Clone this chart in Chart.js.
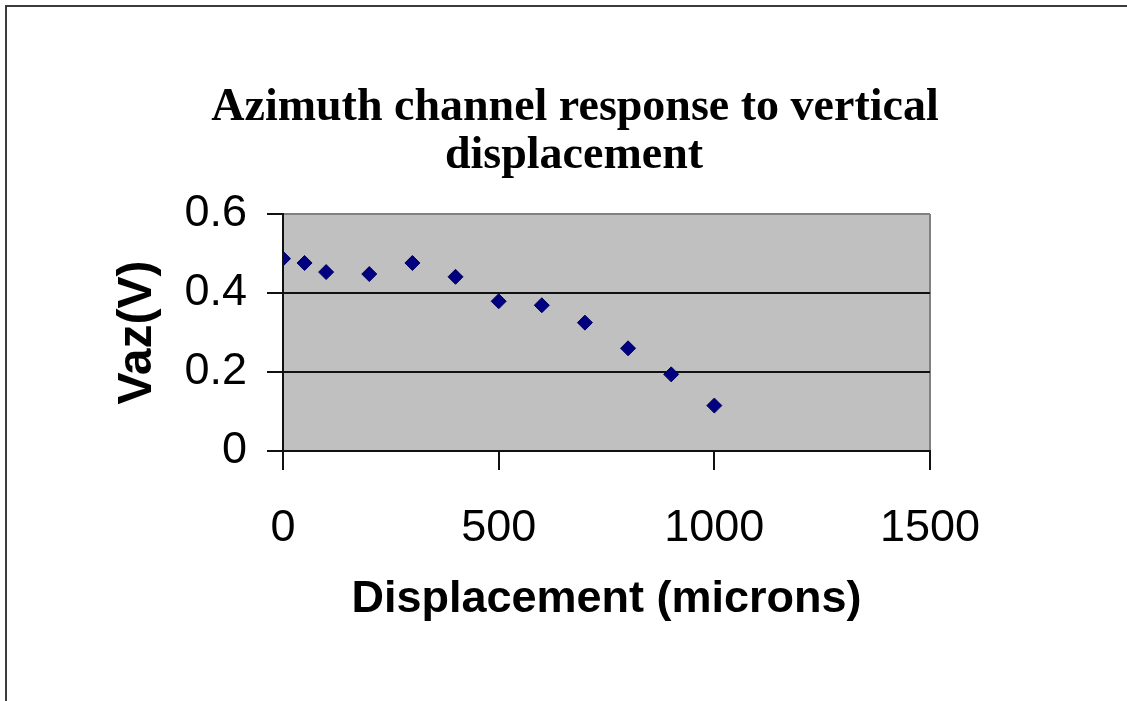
<!DOCTYPE html>
<html>
<head>
<meta charset="utf-8">
<title>Azimuth channel response</title>
<script src="https://cdn.jsdelivr.net/npm/chart.js@4.4.1/dist/chart.umd.min.js"></script>
<style>
    html, body { margin: 0; padding: 0; background: #fff; overflow: hidden; }
    #frame {
        position: absolute; left: 5px; top: 5px;
        width: 1200px; height: 800px;
        border-left: 2px solid #3c3c3c; border-top: 2px solid #3c3c3c;
    }
    #chart { position: absolute; left: 0; top: 0; }
</style>
</head>
<body>
<div id="frame"></div>
<canvas id="chart" width="1127" height="701"></canvas>
<script>
// Values
const displacement = [0, 50, 100, 200, 300, 400, 500, 600, 700, 800, 900, 1000];
const vaz = [0.487, 0.476, 0.453, 0.448, 0.476, 0.441, 0.379, 0.369, 0.325, 0.260, 0.194, 0.115];
const xTicks = [0, 500, 1000, 1500];
const yTicks = [0, 0.2, 0.4, 0.6];
const titleLines = ['Azimuth channel response to vertical', 'displacement'];

const sans = "Arial, 'Liberation Sans', sans-serif";
const serif = "'Times New Roman', 'Liberation Serif', serif";

// grey plot area, like the old Excel charts
const plotBackground = {
    id: 'plotBackground',
    beforeDraw(chart) {
        const { ctx, chartArea: a } = chart;
        ctx.save();
        ctx.fillStyle = '#c0c0c0';
        ctx.fillRect(a.left, a.top, a.right - a.left, a.bottom - a.top);
        ctx.restore();
    }
};

// two-line title, centred a bit left of the plot like the original
const chartTitle = {
    id: 'chartTitle',
    afterDraw(chart) {
        const ctx = chart.ctx;
        ctx.save();
        ctx.fillStyle = '#000';
        ctx.font = `bold 46px ${serif}`;
        ctx.textAlign = 'center';
        ctx.textBaseline = 'alphabetic';
        ctx.fillText(titleLines[0], 575, 120);
        ctx.fillText(titleLines[1], 574, 168);
        ctx.restore();
    }
};

const points = displacement.map((x, i) => ({ x: x, y: vaz[i] }));

new Chart(document.getElementById('chart'), {
    type: 'scatter',
    data: {
        datasets: [{
            label: 'Vaz',
            data: points,
            pointStyle: 'rectRot',
            pointRadius: 7.5,
            backgroundColor: '#000080',
            borderColor: '#000060',
            borderWidth: 1
        }]
    },
    options: {
        responsive: false,
        animation: false,
        devicePixelRatio: 1,
        layout: { padding: { top: 214, right: 197, bottom: 0, left: 0 } },
        plugins: {
            legend: { display: false },
            tooltip: { enabled: false },
            title: { display: false }
        },
        scales: {
            x: {
                type: 'linear',
                min: 0,
                max: 1500,
                afterBuildTicks: (scale) => { scale.ticks = xTicks.map(v => ({ value: v })); },
                afterFit: (scale) => { scale.height = 250; },
                border: { display: true, color: '#111', width: 2 },
                grid: {
                    drawOnChartArea: true,
                    color: (c) => (c.tick && c.tick.value === 1500) ? '#808080' : 'rgba(0,0,0,0)',
                    tickColor: '#111',
                    lineWidth: 2,
                    tickLength: 19
                },
                ticks: {
                    color: '#000',
                    padding: 32,
                    font: { family: sans, size: 45 },
                    callback: (v) => String(v)
                },
                title: {
                    display: true,
                    text: 'Displacement (microns)',
                    color: '#000',
                    font: { family: sans, size: 45, weight: 'bold' },
                    padding: { top: 0, bottom: 74 }
                }
            },
            y: {
                type: 'linear',
                min: 0,
                max: 0.6,
                afterBuildTicks: (scale) => { scale.ticks = yTicks.map(v => ({ value: v })); },
                afterFit: (scale) => { scale.width = 283; },
                border: { display: true, color: '#111', width: 2 },
                grid: {
                    color: (c) => (c.tick && c.tick.value > 0.55) ? '#808080' : '#111',
                    tickColor: '#111',
                    lineWidth: 2,
                    tickLength: 16
                },
                ticks: {
                    color: '#000',
                    padding: 20,
                    font: { family: sans, size: 45 },
                    callback: (v) => String(+v.toFixed(1))
                },
                title: {
                    display: true,
                    text: 'Vaz(V)',
                    color: '#000',
                    font: { family: sans, size: 48, weight: 'bold' },
                    padding: { top: 109, bottom: 0 }
                }
            }
        }
    },
    plugins: [plotBackground, chartTitle]
});
</script>
</body>
</html>
